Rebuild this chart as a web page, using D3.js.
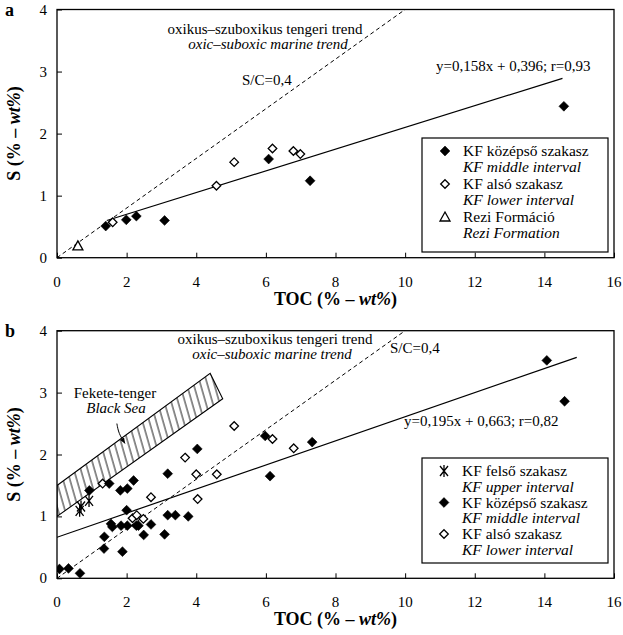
<!DOCTYPE html>
<html>
<head>
<meta charset="utf-8">
<script src="https://cdn.jsdelivr.net/npm/d3@7"></script>
<style>
  body { margin: 0; background: #fff; }
  svg { display: block; }
</style>
</head>
<body>
<svg id="chart" width="623" height="635" font-family="'Liberation Serif', 'Times New Roman', serif"></svg>
<script>
const X_TICKS = [0, 2, 4, 6, 8, 10, 12, 14, 16];
const Y_TICKS = [0, 1, 2, 3, 4];
const SC_RATIO = 0.4; // S/C = 0,4 oxic–suboxic marine trend

// panel a: TOC, S
const aMiddle = [[1.40, 0.51], [1.99, 0.61], [2.28, 0.67], [3.09, 0.60], [6.08, 1.59], [7.27, 1.24], [14.56, 2.44]];
const aLower = [[1.60, 0.57], [4.58, 1.16], [5.09, 1.54], [6.19, 1.76], [6.79, 1.72], [6.99, 1.67]];
const aRezi = [[0.60, 0.19]];
const aFit = [[1.43, 0.60], [14.52, 2.89]];
const aFitLabel = "y=0,158x + 0,396; r=0,93";

// panel b
const bUpper = [[0.65, 1.09], [0.69, 1.16], [0.92, 1.25]];
const bMiddle = [
  [0.07, 0.15], [0.33, 0.16], [0.66, 0.08], [0.93, 1.42], [1.36, 0.67], [1.35, 0.48],
  [1.50, 1.53], [1.55, 0.88], [1.59, 0.83], [1.82, 1.42], [1.84, 0.85], [1.88, 0.43],
  [2.02, 1.45], [2.00, 1.10], [2.02, 0.85], [2.20, 1.58], [2.28, 0.85], [2.34, 0.85],
  [2.49, 0.70], [2.70, 0.87], [3.09, 0.71], [3.18, 1.69], [3.18, 1.02], [3.40, 1.02],
  [3.77, 1.00], [4.03, 2.09], [5.98, 2.30], [6.12, 1.65], [7.33, 2.20], [14.07, 3.52], [14.58, 2.86]
];
const bLower = [
  [1.31, 1.53], [2.17, 0.97], [2.29, 1.02], [2.48, 0.96], [2.70, 1.31], [3.68, 1.95],
  [4.00, 1.68], [4.04, 1.28], [4.59, 1.68], [5.09, 2.46], [6.19, 2.25], [6.80, 2.10]
];
const bFit = [[0, 0.663], [14.93, 3.57]];
const bFitLabel = "y=0,195x + 0,663; r=0,82";
const blackSea = [[0, 1.0], [0, 1.5], [4.40, 3.31], [4.76, 2.90]];
const blackSeaArrow = [[1.72, 2.50], [1.95, 2.18]];

const FONT = 15;
const LEGEND_FONT = 15.5;
const svg = d3.select("#chart");

const defs = svg.append("defs");
defs.append("pattern")
  .attr("id", "hatch")
  .attr("patternUnits", "userSpaceOnUse")
  .attr("width", 6.6)
  .attr("height", 10)
  .attr("patternTransform", "rotate(-16)")
  .append("line")
  .attr("x1", 1).attr("y1", -2).attr("x2", 1).attr("y2", 12)
  .attr("stroke", "#000").attr("stroke-width", 0.9);
defs.append("marker")
  .attr("id", "arrow")
  .attr("viewBox", "0 -5 10 10")
  .attr("refX", 9)
  .attr("markerWidth", 6)
  .attr("markerHeight", 6)
  .attr("orient", "auto")
  .append("path")
  .attr("d", "M0,-4L10,0L0,4Z")
  .attr("fill", "#000");

function shape(type) {
  if (type === "diamond" || type === "open") {
    const r = type === "open" ? 4.3 : 4.9;
    return `M0,${-r}L${r},0L0,${r}L${-r},0Z`;
  }
  if (type === "triangle") return "M0,-5L5,4L-5,4Z";
  // asterisk: X with a vertical bar
  return "M-4,-5L4,5M4,-5L-4,5M0,-6L0,6";
}

function styleSymbol(sel, type) {
  sel.attr("d", shape(type))
    .attr("fill", type === "diamond" ? "#000" : type === "asterisk" ? "none" : "#fff")
    .attr("stroke", "#000")
    .attr("stroke-width", type === "diamond" ? 0.6 : 1.3);
}

function drawSymbols(g, data, type, x, y) {
  g.selectAll(null)
    .data(data)
    .join("path")
    .attr("transform", (d) => `translate(${x(d[0])},${y(d[1])})`)
    .call(styleSymbol, type);
}

function drawLegend(g, box, items) {
  g.append("rect")
    .attr("x", box.x).attr("y", box.y)
    .attr("width", box.w).attr("height", box.h)
    .attr("fill", "#fff").attr("stroke", "#000").attr("stroke-width", 1.2);
  items.forEach((it, i) => {
    const by = box.first + i * box.step;
    g.append("path")
      .attr("transform", `translate(${box.sx},${by - 5})`)
      .call(styleSymbol, it.type);
    g.append("text").attr("x", box.tx).attr("y", by)
      .attr("font-size", LEGEND_FONT).text(it.hu);
    g.append("text").attr("x", box.tx).attr("y", by + LEGEND_FONT)
      .attr("font-size", LEGEND_FONT).attr("font-style", "italic").text(it.en);
  });
}

function drawPanel(p) {
  const x = d3.scaleLinear().domain([0, 16]).range([57, 614]);
  const y = d3.scaleLinear().domain([0, 4]).range([p.bottom, p.top]);
  const g = svg.append("g");

  // frame
  g.append("rect")
    .attr("x", x(0)).attr("y", y(4))
    .attr("width", x(16) - x(0)).attr("height", y(0) - y(4))
    .attr("fill", "none").attr("stroke", "#000").attr("stroke-width", 1.3);

  // inward ticks + labels
  const xAxis = g.append("g").attr("transform", `translate(0,${y(0)})`)
    .call(d3.axisTop(x).tickValues(X_TICKS).tickSize(5).tickFormat(""));
  xAxis.select(".domain").remove();
  xAxis.selectAll("line").attr("stroke-width", 1);
  g.append("g").selectAll("text").data(X_TICKS).join("text")
    .attr("x", (d) => x(d)).attr("y", y(0) + 29)
    .attr("text-anchor", "middle").attr("font-size", FONT).text((d) => d);

  const yAxis = g.append("g").attr("transform", `translate(${x(0)},0)`)
    .call(d3.axisRight(y).tickValues(Y_TICKS).tickSize(5).tickFormat(""));
  yAxis.select(".domain").remove();
  yAxis.selectAll("line").attr("stroke-width", 1);
  g.append("g").selectAll("text").data(Y_TICKS).join("text")
    .attr("x", x(0) - 10).attr("y", (d) => y(d) + 5)
    .attr("text-anchor", "end").attr("font-size", FONT).text((d) => d);

  // axis titles
  const xt = g.append("text")
    .attr("x", (x(0) + x(16)) / 2).attr("y", y(0) + 47)
    .attr("text-anchor", "middle").attr("font-size", 18).attr("font-weight", "bold");
  xt.append("tspan").text("TOC (% – ");
  xt.append("tspan").attr("font-style", "italic").text("wt%");
  xt.append("tspan").text(")");

  const yt = g.append("text")
    .attr("transform", `translate(20,${(y(0) + y(4)) / 2}) rotate(-90)`)
    .attr("text-anchor", "middle").attr("font-size", 18).attr("font-weight", "bold");
  yt.append("tspan").text("S (% – ");
  yt.append("tspan").attr("font-style", "italic").text("wt%");
  yt.append("tspan").text(")");

  g.append("text").attr("x", 5).attr("y", y(4) + 6)
    .attr("font-size", 18).attr("font-weight", "bold").text(p.letter);

  const plot = g.append("g");
  const clipId = "clip-" + p.letter;
  defs.append("clipPath").attr("id", clipId).append("rect")
    .attr("x", x(0)).attr("y", y(4)).attr("width", x(16) - x(0)).attr("height", y(0) - y(4));
  plot.attr("clip-path", `url(#${clipId})`);

  const line = d3.line().x((d) => x(d[0])).y((d) => y(d[1]));

  if (p.band) {
    plot.append("path")
      .attr("d", line(p.band) + "Z")
      .attr("fill", "url(#hatch)")
      .attr("stroke", "#000").attr("stroke-width", 1.1);
  }

  // S/C = 0,4 trend
  plot.append("path")
    .attr("d", line([[0, 0], [4 / SC_RATIO, 4]]))
    .attr("fill", "none").attr("stroke", "#000")
    .attr("stroke-width", 1).attr("stroke-dasharray", "4,3");

  // regression
  plot.append("path")
    .attr("d", line(p.fit))
    .attr("fill", "none").attr("stroke", "#000").attr("stroke-width", 1.2);

  p.series.forEach((s) => drawSymbols(plot, s.data, s.type, x, y));

  if (p.arrow) {
    g.append("path")
      .attr("d", d3.line().curve(d3.curveBasis).x((d) => x(d[0])).y((d) => y(d[1]))(
        [p.arrow[0], [p.arrow[0][0] + 0.05, (p.arrow[0][1] + p.arrow[1][1]) / 2], p.arrow[1]]))
      .attr("fill", "none").attr("stroke", "#000").attr("stroke-width", 1)
      .attr("marker-end", "url(#arrow)");
  }

  // annotations
  p.notes.forEach((n) => {
    g.append("text")
      .attr("x", n.x).attr("y", n.y)
      .attr("text-anchor", n.anchor || "start")
      .attr("font-size", FONT)
      .attr("font-style", n.italic ? "italic" : null)
      .text(n.text);
  });

  drawLegend(g, p.legend, p.legendItems);
}

drawPanel({
  letter: "a",
  top: 9.5,
  bottom: 257.7,
  fit: aFit,
  series: [
    { data: aRezi, type: "triangle" },
    { data: aLower, type: "open" },
    { data: aMiddle, type: "diamond" },
  ],
  notes: [
    { text: "oxikus–szuboxikus tengeri trend", x: 265, y: 34, anchor: "middle" },
    { text: "oxic–suboxic marine trend", x: 268, y: 49, anchor: "middle", italic: true },
    { text: "S/C=0,4", x: 242, y: 85 },
    { text: aFitLabel, x: 436, y: 71 },
  ],
  legend: { x: 422, y: 138, w: 186, h: 114, sx: 445, tx: 463, first: 156, step: 33 },
  legendItems: [
    { type: "diamond", hu: "KF középső szakasz", en: "KF middle interval" },
    { type: "open", hu: "KF alsó szakasz", en: "KF lower interval" },
    { type: "triangle", hu: "Rezi Formáció", en: "Rezi Formation" },
  ],
});

drawPanel({
  letter: "b",
  top: 330.7,
  bottom: 578.3,
  fit: bFit,
  band: blackSea,
  arrow: blackSeaArrow,
  series: [
    { data: bLower, type: "open" },
    { data: bMiddle, type: "diamond" },
    { data: bUpper, type: "asterisk" },
  ],
  notes: [
    { text: "oxikus–szuboxikus tengeri trend", x: 275, y: 344, anchor: "middle" },
    { text: "oxic–suboxic marine trend", x: 272, y: 359, anchor: "middle", italic: true },
    { text: "S/C=0,4", x: 390, y: 353 },
    { text: bFitLabel, x: 404, y: 426 },
    { text: "Fekete-tenger", x: 115, y: 398, anchor: "middle" },
    { text: "Black Sea", x: 116, y: 413, anchor: "middle", italic: true },
  ],
  legend: { x: 422, y: 458, w: 186, h: 105, sx: 444, tx: 462, first: 476, step: 31.5 },
  legendItems: [
    { type: "asterisk", hu: "KF felső szakasz", en: "KF upper interval" },
    { type: "diamond", hu: "KF középső szakasz", en: "KF middle interval" },
    { type: "open", hu: "KF alsó szakasz", en: "KF lower interval" },
  ],
});
</script>
</body>
</html>
